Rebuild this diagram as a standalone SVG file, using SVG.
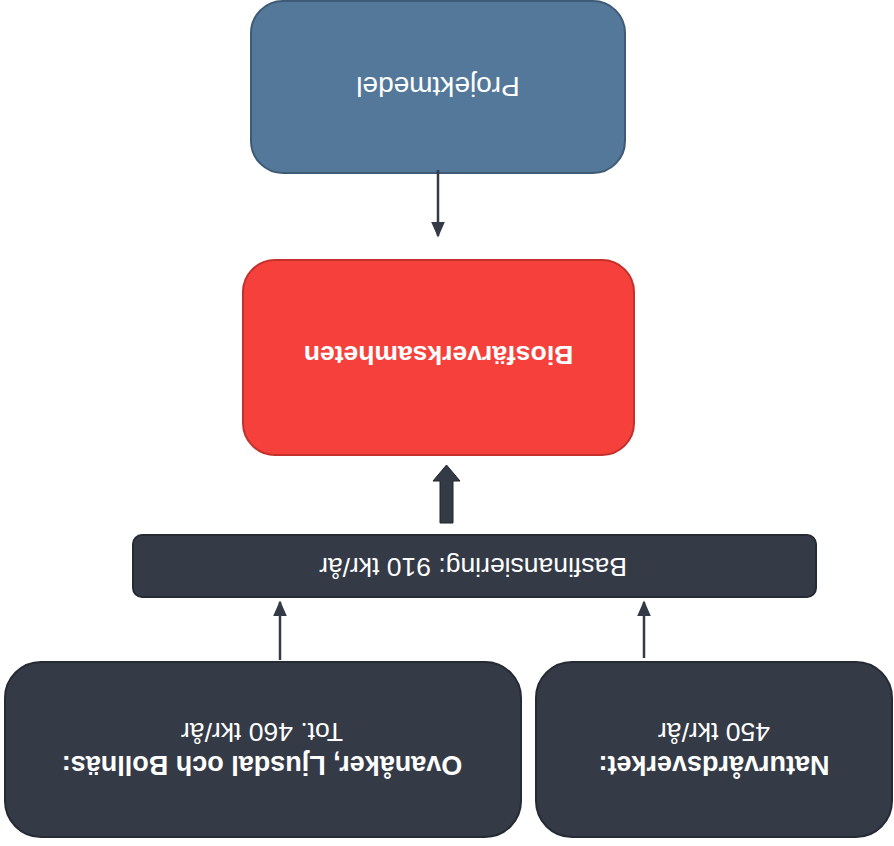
<svg xmlns="http://www.w3.org/2000/svg" width="894" height="846" viewBox="0 0 894 846">
<style>
.t{font-family:"Liberation Sans",Arial,sans-serif;fill:#ffffff;text-anchor:middle}
.b{font-weight:bold}
.dark{fill:#343a46;stroke:#262b33;stroke-width:2}
.conn{stroke:#343a46;stroke-width:2.5;fill:none}
</style>
<defs>
<marker id="ah" viewBox="0 0 10 10" refX="9" refY="5" markerWidth="16" markerHeight="14" markerUnits="userSpaceOnUse" orient="auto" preserveAspectRatio="none">
<path d="M0,0 L10,5 L0,10 z" fill="#343a46"/>
</marker>
</defs>
<g transform="rotate(180 447 423)">
<g id="projektmedel">
<rect x="269" y="673" width="374" height="172" rx="32" fill="#537899" stroke="#3e5a75" stroke-width="2"/>
<text class="t" x="456" y="769" font-size="28">Projektmedel</text>
</g>
<g id="biosfar">
<rect x="260" y="391" width="391" height="195" rx="32" fill="#f5403c" stroke="#c4302b" stroke-width="2"/>
<text class="t b" x="455.5" y="500" font-size="26.5">Biosfärverksamheten</text>
</g>
<g id="basfinansiering">
<rect x="78" y="249" width="683" height="62" rx="9" class="dark"/>
<text class="t" x="421" y="288" font-size="26.5">Basfinansiering: 910 tkr/år</text>
</g>
<g id="kommuner">
<rect x="373" y="9" width="516" height="175" rx="36" class="dark"/>
<text class="t b" x="632" y="90" font-size="27">Ovanåker, Ljusdal och Bollnäs:</text>
<text class="t" x="632" y="123" font-size="26.5">Tot. 460 tkr/år</text>
</g>
<g id="naturvardsverket">
<rect x="2" y="9" width="356" height="175" rx="36" class="dark"/>
<text class="t b" x="180" y="90" font-size="27">Naturvårdsverket:</text>
<text class="t" x="180" y="123" font-size="26.5">450 tkr/år</text>
</g>
<g id="connectors">
<line class="conn" x1="456" y1="676" x2="456" y2="610" marker-end="url(#ah)"/>
<path d="M441,323 L454,323 L454,365 L461,365 L447.5,381 L434,365 L441,365 z" fill="#343a46" stroke="#1f242b" stroke-width="1"/>
<line class="conn" x1="614" y1="186" x2="614" y2="244" marker-end="url(#ah)"/>
<line class="conn" x1="250" y1="188" x2="250" y2="244" marker-end="url(#ah)"/>
</g>
</g>
</svg>
